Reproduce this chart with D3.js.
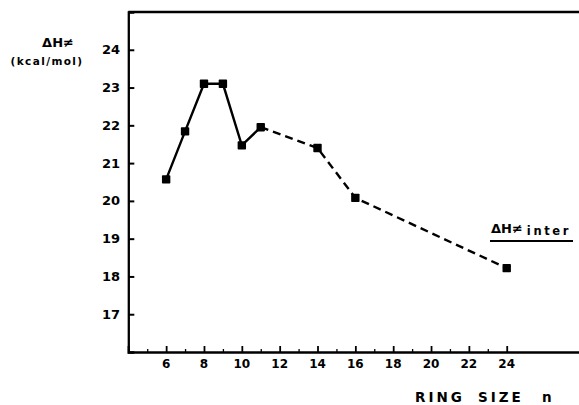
<!DOCTYPE html>
<html><head><meta charset="utf-8">
<script src="https://cdn.jsdelivr.net/npm/d3@7"></script>
<style>
html,body{margin:0;padding:0;background:#fff;}
svg{display:block;}
text{font-family:"DejaVu Sans",sans-serif;font-weight:bold;fill:#000;}
</style></head>
<body>
<svg id="c" width="579" height="405"></svg>
<script>
// data
const ringSize = [6, 7, 8, 9, 10, 11, 14, 16, 24];
const deltaH   = [20.57, 21.84, 23.1, 23.1, 21.47, 21.95, 21.4, 20.08, 18.22];
const solidUntil = 11;               // solid line up to n=11, dashed after
const xMajorTicks = [6, 8, 10, 12, 14, 16, 18, 20, 22, 24];
const xMinorTicks = [5, 7, 9, 11, 13, 15, 17, 19, 21, 23];
const yTicks = [17, 18, 19, 20, 21, 22, 23, 24];
const xTitleWords = ["RING", "SIZE", "n"];

const svg = d3.select("#c");
const x = d3.scaleLinear().domain([4, 28]).range([128.3, 582.4]);
const y = d3.scaleLinear().domain([16, 25]).range([352, 12]);
const ink = "#000";

// frame: top line
svg.append("line").attr("x1", x(4)).attr("x2", 579).attr("y1", y(25)).attr("y2", y(25))
  .attr("stroke", ink).attr("stroke-width", 2.3);

// y axis (ticks pointing inward)
const yAxis = d3.axisRight(y).tickValues(yTicks).tickSize(6).tickFormat("");
const gy = svg.append("g").attr("transform", `translate(${x(4)},0)`).call(yAxis);
gy.select(".domain").attr("stroke", ink).attr("stroke-width", 2.3);
gy.selectAll(".tick line").attr("stroke", ink).attr("stroke-width", 2);
svg.selectAll(".ylab").data(yTicks).enter().append("text")
  .attr("x", 120).attr("y", d => y(d) + 4.6).attr("text-anchor", "end")
  .attr("font-size", 13).text(d => d);

// x axis (ticks pointing inward)
const xAxis = d3.axisTop(x).tickValues(xMajorTicks).tickSize(6).tickFormat("");
const gx = svg.append("g").attr("transform", `translate(0,${y(16)})`).call(xAxis);
gx.select(".domain").attr("stroke", ink).attr("stroke-width", 2.3);
gx.selectAll(".tick line").attr("stroke", ink).attr("stroke-width", 1.8);
const xMinor = d3.axisTop(x).tickValues(xMinorTicks).tickSize(3).tickFormat("");
const gxm = svg.append("g").attr("transform", `translate(0,${y(16)})`).call(xMinor);
gxm.select(".domain").remove();
gxm.selectAll(".tick line").attr("stroke", ink).attr("stroke-width", 1.3);
svg.selectAll(".xlab").data(xMajorTicks).enter().append("text")
  .attr("x", d => x(d)).attr("y", 368).attr("text-anchor", "middle")
  .attr("font-size", 12).text(d => d);

// lines
const pts = ringSize.map((n, i) => ({n, v: deltaH[i]}));
const line = d3.line().x(d => x(d.n)).y(d => y(d.v));
svg.append("path").datum(pts.filter(d => d.n <= solidUntil)).attr("d", line)
  .attr("fill", "none").attr("stroke", ink).attr("stroke-width", 2.4);
svg.append("path").datum(pts.filter(d => d.n >= solidUntil)).attr("d", line)
  .attr("fill", "none").attr("stroke", ink).attr("stroke-width", 2.4)
  .attr("stroke-dasharray", "8,5");

// markers
svg.selectAll(".pt").data(pts).enter().append("rect")
  .attr("x", d => x(d.n) - 4.2).attr("y", d => y(d.v) - 4.2)
  .attr("width", 8.4).attr("height", 8.4).attr("rx", 0.8).attr("fill", ink);

// y axis title
svg.append("text").attr("x", 58).attr("y", 47).attr("text-anchor", "middle")
  .attr("font-size", 13).text("ΔH≠");
svg.append("text").attr("x", 47).attr("y", 65).attr("text-anchor", "middle")
  .attr("font-size", 10.5).attr("letter-spacing", 1.4).text("(kcal/mol)");

// x axis title: RING SIZE n (wide-spaced words)
const xt = svg.append("text").attr("x", 415).attr("y", 402)
  .attr("font-size", 13.5).attr("letter-spacing", 3);
const wordX = [415, 478, 542];
xTitleWords.forEach((w, i) => xt.append("tspan").attr("x", wordX[i]).text(w));

// inter label
const lab = svg.append("text").attr("x", 491).attr("y", 233).attr("font-size", 13);
lab.append("tspan").text("ΔH≠");
lab.append("tspan").attr("font-size", 11.5).attr("dx", 4).attr("dy", 2).attr("letter-spacing", 2.6).text("inter");
svg.append("line").attr("x1", 490).attr("x2", 573).attr("y1", 241).attr("y2", 241)
  .attr("stroke", ink).attr("stroke-width", 2);
</script>
</body></html>
